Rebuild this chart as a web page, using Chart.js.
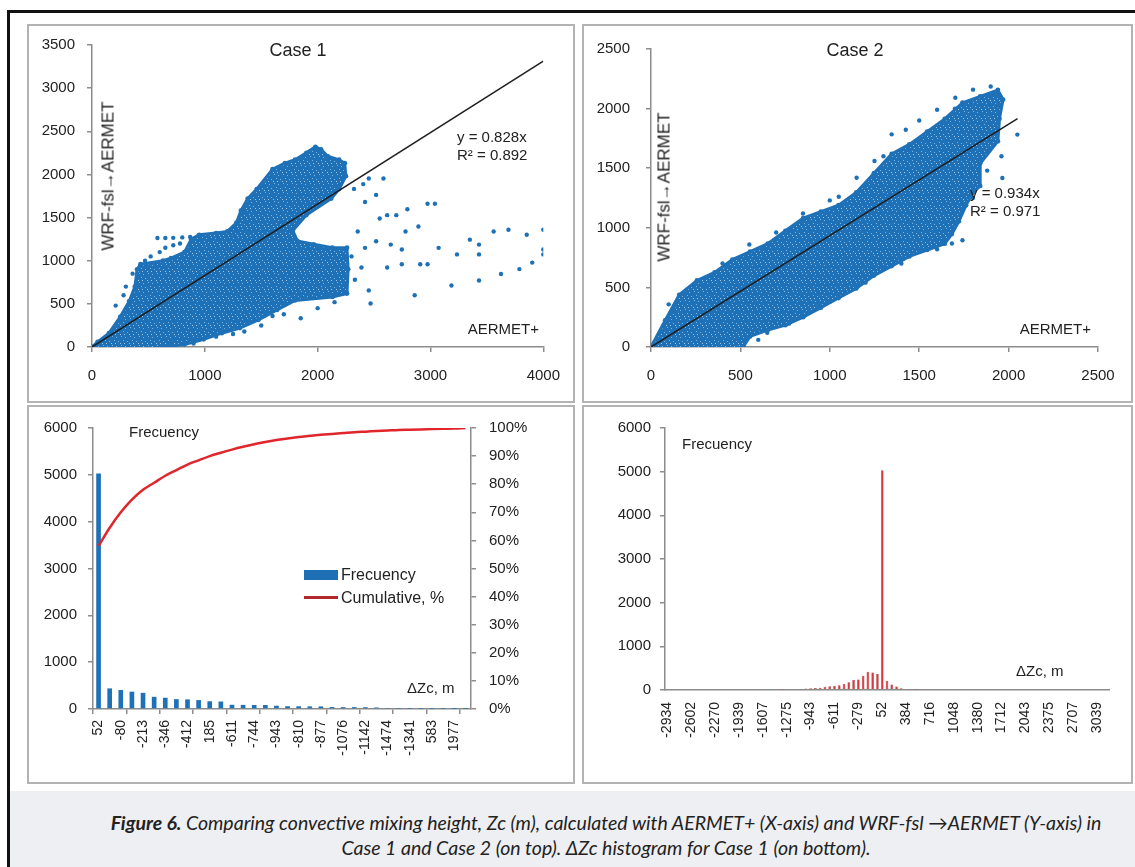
<!DOCTYPE html>
<html>
<head>
<meta charset="utf-8">
<title>Figure 6 - convective mixing height</title>
<script src="https://cdn.jsdelivr.net/npm/chart.js@4.4.1/dist/chart.umd.min.js"></script>
<style>
  html, body { margin: 0; padding: 0; background: #fff; }
  body { width: 1135px; height: 867px; position: relative; overflow: hidden;
         font-family: "Liberation Sans", Arial, sans-serif; color: #222; }
  .frame { position: absolute; left: 7px; top: 10px; width: 1140px; height: 870px;
           border-top: 3px solid #111; border-left: 3px solid #111; }
  .panel { position: absolute; border: 2px solid #b3b3b3; box-sizing: border-box; }
  canvas { position: absolute; }
  .t { position: absolute; white-space: nowrap; font-size: 15px; line-height: 1; }
  .c { transform: translate(-50%, -50%); }
  .l { transform: translate(0, -50%); }
  .r { transform: translate(-100%, -50%); }
  .rot { transform: translate(-50%, -50%) rotate(-90deg); font-size: 17px; }
  .cap { position: absolute; left: 10px; top: 791px; width: 1125px; height: 76px; background: #eeeff2; }
  .cap div { position: absolute; left: 57px; width: 1078px; top: 19px; text-align: center;
             font-family: Lato, "Open Sans", sans-serif; font-style: italic; font-size: 19.5px;
             line-height: 25px; color: #222; }
</style>
</head>
<body>
<div class="frame"></div>
<div class="panel" style="left:27px;top:24px;width:548px;height:379px"></div>
<div class="panel" style="left:582px;top:24px;width:551px;height:379px"></div>
<div class="panel" style="left:27px;top:405px;width:548px;height:379px"></div>
<div class="panel" style="left:582px;top:405px;width:551px;height:379px"></div>

<canvas id="case1" width="548" height="379" style="left:27px;top:24px"></canvas>
<canvas id="case2" width="551" height="379" style="left:582px;top:24px"></canvas>
<canvas id="hist1" width="548" height="378" style="left:27px;top:406px"></canvas>
<canvas id="hist2" width="551" height="378" style="left:582px;top:406px"></canvas>

<!-- annotations inside the plots -->
<div class="t c" style="left:298px;top:50px;font-size:18px">Case 1</div>
<div class="t rot" style="left:108px;top:176px">WRF-fsl→AERMET</div>
<div class="t l" style="left:457px;top:136px">y = 0.828x</div>
<div class="t l" style="left:457px;top:154px">R² = 0.892</div>
<div class="t r" style="left:539px;top:328px">AERMET+</div>

<div class="t c" style="left:855px;top:50px;font-size:18px">Case 2</div>
<div class="t rot" style="left:664px;top:187px">WRF-fsl→AERMET</div>
<div class="t l" style="left:970px;top:192px">y = 0.934x</div>
<div class="t l" style="left:970px;top:210px">R² = 0.971</div>
<div class="t r" style="left:1091px;top:328px">AERMET+</div>

<div class="t l" style="left:129px;top:431px">Frecuency</div>
<div style="position:absolute;left:304px;top:570px;width:34px;height:10px;background:#1f6fb4"></div>
<div class="t l" style="left:341px;top:575px;font-size:16px">Frecuency</div>
<div style="position:absolute;left:304px;top:596px;width:34px;height:3px;background:#b0282b"></div>
<div class="t l" style="left:341px;top:598px;font-size:16px">Cumulative, %</div>
<div class="t l" style="left:407px;top:687px">ΔZc, m</div>

<div class="t l" style="left:682px;top:443px">Frecuency</div>
<div class="t l" style="left:1016px;top:670px">ΔZc, m</div>

<div class="cap"><div><b>Figure 6.</b> Comparing convective mixing height, Zc (m), calculated with AERMET+ (X-axis) and WRF-fsl →AERMET (Y-axis) in<br>Case 1 and Case 2 (on top). ΔZc histogram for Case 1 (on bottom).</div></div>

<script>
// ---- Case 1 scatter (AERMET+ vs WRF-fsl->AERMET) ----
// outline of the dense part of the cloud, [AERMET+, WRF]
const case1Cloud = [
  [0, 0], [50, 60], [150, 160], [250, 350], [330, 530], [380, 700], [400, 900], [430, 960],
  [630, 1000], [700, 1030], [820, 1100], [880, 1250], [950, 1300], [1100, 1320], [1200, 1340],
  [1280, 1440], [1320, 1580], [1380, 1720], [1460, 1830], [1600, 2060], [1710, 2130], [1800, 2170],
  [1900, 2250], [1980, 2320], [2030, 2290], [2090, 2210], [2190, 2170], [2240, 2130], [2250, 1980],
  [2190, 1830], [2120, 1720], [1900, 1530], [1780, 1350], [1820, 1230], [1965, 1190], [2130, 1150],
  [2260, 1150], [2270, 900], [2260, 620], [2130, 580], [1800, 540], [1640, 430], [1475, 315],
  [1310, 220], [1150, 160], [990, 90], [820, 30], [630, 0]
];
// loose points outside the cloud
const case1Points = [
  [2453, 1953], [2583, 1953], [2518, 1763], [2420, 1680], [2795, 1597], [2974, 1661], [3039, 1661],
  [2550, 1490], [2616, 1528], [2697, 1528], [2893, 1396], [2779, 1339], [2355, 1339], [2518, 1225],
  [2420, 1149], [2648, 1187], [2746, 1130], [3072, 1149], [3235, 1073], [3349, 1244], [3430, 1187],
  [3560, 1339], [3691, 1358], [3853, 1301], [4000, 1358], [4000, 1130], [4000, 1073], [3430, 1073],
  [3430, 770], [3625, 846], [3788, 903], [3902, 978], [3186, 713], [2860, 599], [2469, 504],
  [2746, 959], [2909, 959], [2974, 959], [2616, 921], [2453, 656], [2388, 921], [1850, 334],
  [2322, 1832], [2404, 1888], [922, 87], [210, 480], [1230, 1300], [2300, 1050], [2330, 780],
  [1500, 1260], [1400, 1320],
  // row near 1260 and the sparse band above the cloud on the left
  [580, 1263], [650, 1263], [720, 1265], [800, 1270], [870, 1275], [600, 1100], [650, 1150],
  [720, 1180], [780, 1200], [520, 1050], [470, 1000], [360, 850], [300, 700], [280, 600],
  // scattered below the lower edge
  [700, 50], [900, 40], [1100, 120], [1250, 150], [1500, 250], [1700, 380], [2000, 450],
  [2150, 520], [1600, 360], [1350, 180]
];
const case1Trend = [[0, 0], [4000, 3312]];

// ---- Case 2 scatter ----
const case2Cloud = [
  [0, 0], [79, 223], [158, 438], [257, 558], [356, 626], [455, 733], [554, 800], [653, 867],
  [752, 975], [851, 1082], [950, 1136], [1049, 1190], [1148, 1297], [1247, 1458], [1346, 1619],
  [1445, 1700], [1544, 1807], [1643, 1914], [1742, 2049], [1841, 2102], [1940, 2156], [1969, 2076],
  [1949, 1914], [1940, 1726], [1841, 1539], [1841, 1351], [1801, 1297], [1762, 1189], [1722, 1055],
  [1683, 948], [1643, 867], [1544, 814], [1445, 760], [1346, 679], [1247, 599], [1148, 491],
  [1049, 411], [950, 330], [851, 250], [752, 183], [653, 142], [554, 89], [515, 0]
];
const case2Points = [
  [2049, 1782], [1965, 1418], [1742, 895], [1683, 868], [930, 331], [772, 196], [99, 358],
  [129, 344], [1900, 2186], [1930, 2132], [1702, 2091], [1801, 2159], [1346, 1784], [1425, 1823],
  [1930, 2022], [1880, 1480], [1960, 1600], [1600, 1990], [1500, 1900], [1250, 1560], [1150, 1420],
  [520, 0], [600, 60], [1050, 1260], [700, 960], [300, 520], [400, 700], [550, 860], [850, 1120],
  [1000, 1230], [1300, 1600], [1700, 2000], [1800, 1250], [1600, 820], [1400, 700], [1200, 540],
  [1000, 380], [800, 230], [650, 120]
];
const case2Trend = [[0, 0], [2050, 1915]];

// ---- Case 1 histogram of dZc (frequency + cumulative %) ----
const histLabels1 = ['52', '-80', '-213', '-346', '-412', '185', '-611', '-744', '-943',
                     '-810', '-877', '-1076', '-1142', '-1474', '-1341', '583', '1977'];
const histFreq1 = [5030, 440, 405, 370, 345, 260, 240, 210, 205, 190, 165, 160, 90, 88, 86, 85, 70,
                   60, 58, 56, 55, 42, 40, 40, 38, 32, 8, 6, 4, 3, 2, 2, 1, 1];
const histCum1 = [58, 64.5, 70, 74.5, 78, 80.5, 83, 85, 87, 88.5, 90, 91.2, 92.3, 93.3, 94.2, 95,
                  95.7, 96.3, 96.8, 97.2, 97.6, 97.9, 98.2, 98.5, 98.7, 98.9, 99.1, 99.3, 99.4,
                  99.5, 99.6, 99.7, 99.8, 100];

// ---- bottom right histogram (bins every ~66 m, labelled every 5th bin) ----
const histLabels2 = ['-2934', '-2602', '-2270', '-1939', '-1607', '-1275', '-943', '-611', '-279',
                     '52', '384', '716', '1048', '1380', '1712', '2043', '2375', '2707', '3039'];
const histFreq2 = [
  0, 0, 0, 0, 0, 0, 0, 0, 0, 0,
  0, 0, 0, 0, 0, 0, 0, 0, 0, 0,
  0, 0, 20, 0, 5, 15, 20, 20, 25, 35,
  40, 45, 50, 75, 85, 95, 110, 140, 180, 230,
  240, 325, 420, 400, 365, 5030, 205, 125, 78, 38,
  25, 12, 5, 0, 0, 0, 0, 0, 0, 0,
  0, 0, 0, 0, 0, 0, 0, 0, 0, 0,
  0, 0, 0, 0, 0, 0, 0, 0, 0, 0,
  0, 0, 0, 0, 0, 0, 0, 0, 0, 0,
  0, 0, 0
];

const BLUE = '#1f71b7';
const AXIS = '#8c8c8c';
const FONT = { family: '"Liberation Sans", Arial, sans-serif', size: 15 };

Chart.defaults.color = '#222';
Chart.defaults.font.family = FONT.family;

const toXY = arr => arr.map(([x, y]) => ({ x, y }));
const plain = v => String(v);

// the dense part of a scatter is thousands of dots; fill it with a blue stipple
function stipple() {
  const c = document.createElement('canvas');
  c.width = 9; c.height = 9;
  const g = c.getContext('2d');
  g.fillStyle = BLUE; g.fillRect(0, 0, 9, 9);
  g.fillStyle = 'rgba(140,190,235,0.85)';
  g.fillRect(1, 2, 1, 1); g.fillRect(6, 1, 1, 1); g.fillRect(4, 6, 1, 1); g.fillRect(8, 7, 1, 1);
  g.fillStyle = 'rgba(255,255,255,0.6)';
  g.fillRect(3, 4, 1, 1); g.fillRect(7, 4, 1, 1);
  return g.createPattern(c, 'repeat');
}

// shared axis look: grey axis line with small outside tick marks, no gridlines
function axis(size, extra) {
  return Object.assign({
    border: { display: true, color: AXIS, width: 1.5 },
    grid: { drawOnChartArea: false, drawTicks: true, tickLength: 5, color: AXIS, lineWidth: 1.5 },
    afterFit: s => { if (size.w) s.width = size.w; if (size.h) s.height = size.h; }
  }, extra);
}

function scatterChart(id, cloud, points, trend, xMax, xStep, yMax, pad, yW, yPad) {
  new Chart(document.getElementById(id), {
    type: 'scatter',
    data: {
      datasets: [
        { data: toXY(trend), order: 1, showLine: true, borderColor: '#1e1e1e', borderWidth: 1.5,
          pointRadius: 0, fill: false },
        { data: toXY(points), order: 2, pointRadius: 2.2, pointBackgroundColor: BLUE,
          pointBorderWidth: 0, showLine: false },
        { data: toXY(cloud), order: 3, showLine: true, fill: 'shape', tension: 0,
          backgroundColor: stipple(), borderColor: BLUE, borderWidth: 3,
          pointRadius: 2.4, pointBackgroundColor: BLUE, pointBorderWidth: 0 }
      ]
    },
    options: {
      responsive: false, animation: false, events: [],
      layout: { padding: pad },
      plugins: { legend: { display: false }, tooltip: { enabled: false } },
      scales: {
        x: axis({ h: 40 }, { type: 'linear', min: 0, max: xMax,
          ticks: { stepSize: xStep, padding: 15, font: FONT, callback: plain } }),
        y: axis({ w: yW }, { type: 'linear', min: 0, max: yMax,
          ticks: { stepSize: 500, padding: yPad, font: FONT, callback: plain } })
      }
    }
  });
}

scatterChart('case1', case1Cloud, case1Points, case1Trend, 4000, 1000, 3500,
             { top: 17, right: 31, bottom: 16, left: 0 }, 65, 12);
scatterChart('case2', case2Cloud, case2Points, case2Trend, 2500, 500, 2500,
             { top: 14, right: 35, bottom: 16, left: 0 }, 69, 16);

// bottom left: frequency bars + cumulative line on the right axis
const cats1 = histFreq1.map((_, i) => i % 2 ? '' : histLabels1[i / 2]);
new Chart(document.getElementById('hist1'), {
  data: {
    labels: cats1,
    datasets: [
      { type: 'line', data: histCum1, yAxisID: 'y1', borderColor: '#e0262b', borderWidth: 2.5,
        pointRadius: 0, cubicInterpolationMode: 'monotone', fill: false },
      { type: 'bar', data: histFreq1, yAxisID: 'y', backgroundColor: BLUE,
        categoryPercentage: 1, barPercentage: 0.42 }
    ]
  },
  options: {
    responsive: false, animation: false, events: [],
    layout: { padding: { top: 10, right: 44, bottom: 15, left: 0 } },
    plugins: { legend: { display: false }, tooltip: { enabled: false } },
    scales: {
      x: axis({ h: 60 }, {
        grid: { drawOnChartArea: false, drawTicks: true, tickLength: 5, lineWidth: 1.5, offset: true,
                color: c => c.index % 3 === 0 ? AXIS : 'rgba(0,0,0,0)' },
        ticks: { autoSkip: false, maxRotation: 90, minRotation: 90, padding: 6,
                 font: { family: FONT.family, size: 14 } } }),
      y: axis({ w: 66 }, { position: 'left', min: 0, max: 6000,
        ticks: { stepSize: 1000, padding: 11, font: FONT, callback: plain } }),
      y1: axis({ w: 60 }, { position: 'right', min: 0, max: 100,
        ticks: { stepSize: 10, padding: 13, font: FONT, callback: v => v + '%' } })
    }
  }
});

// bottom right: narrow red bars
const cats2 = histFreq2.map((_, i) => i % 5 ? '' : histLabels2[i / 5]);
new Chart(document.getElementById('hist2'), {
  type: 'bar',
  data: {
    labels: cats2,
    datasets: [
      { data: histFreq2, backgroundColor: '#d8383e', borderColor: '#a3262a', borderWidth: 0.5,
        categoryPercentage: 1, barPercentage: 0.55 }
    ]
  },
  options: {
    responsive: false, animation: false, events: [],
    layout: { padding: { top: 22, right: 24, bottom: 24, left: 0 } },
    plugins: { legend: { display: false }, tooltip: { enabled: false } },
    scales: {
      x: axis({ h: 70 }, {
        grid: { drawOnChartArea: false, drawTicks: true, tickLength: 5, color: 'rgba(0,0,0,0)' },
        ticks: { autoSkip: false, maxRotation: 90, minRotation: 90, padding: 7,
                 font: { family: FONT.family, size: 14 } } }),
      y: axis({ w: 83 }, { min: 0, max: 6000,
        ticks: { stepSize: 1000, padding: 9, font: FONT, callback: plain } })
    }
  }
});
</script>
</body>
</html>
